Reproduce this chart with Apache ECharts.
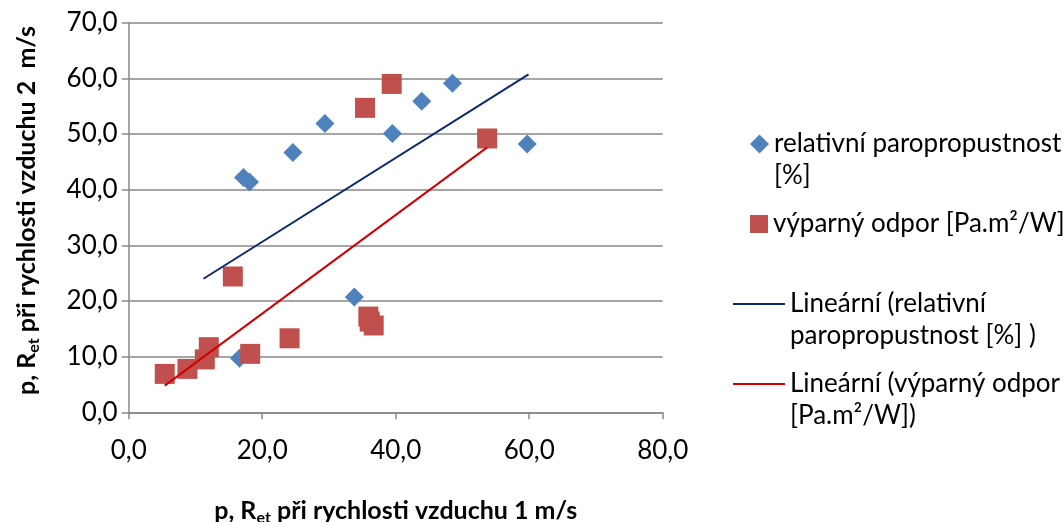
<!DOCTYPE html>
<html>
<head>
<meta charset="utf-8">
<script src="https://cdn.jsdelivr.net/npm/echarts@6/dist/echarts.min.js"></script>
<style>
html,body{margin:0;padding:0;background:#fff;}
#chart{width:1064px;height:522px;}
</style>
</head>
<body>
<div id="chart"></div>
<script>
// ---- data ----
const blueName = 'relativní paropropustnost [%]';
const redName = 'výparný odpor [Pa.m²/W]';
const blueTrendName = 'Lineární (relativní paropropustnost [%] )';
const redTrendName = 'Lineární (výparný odpor [Pa.m²/W])';

const blueX = [17.2, 18.1, 24.6, 29.4, 39.5, 43.9, 48.5, 59.7, 33.8, 16.6];
const blueY = [42.2, 41.4, 46.7, 51.9, 50.1, 55.9, 59.1, 48.2, 20.7, 9.7];

const redX = [39.4, 35.4, 53.7, 15.6, 24.1, 18.2, 12.0, 11.4, 8.8, 5.4, 35.9, 36.1, 36.7];
const redY = [59.0, 54.7, 49.2, 24.4, 13.3, 10.5, 11.7, 9.5, 7.8, 6.9, 17.2, 16.3, 15.6];

// trend line end points [x, y]
const blueTrend = [[11.2, 24.0], [59.9, 60.7]];
const redTrend = [[5.4, 4.8], [53.7, 47.6]];

const xTicks = { min: 0, max: 80, interval: 20 };
const yTicks = { min: 0, max: 70, interval: 10 };

// ---- chart ----
const FONT = 'Lato';
const FS = 26;
const fmt = v => v.toFixed(1).replace('.', ',');
const zip = (xs, ys) => xs.map((x, i) => [x, ys[i]]);
const GRID = '#898989';
const BLUE = '#4F81BD', RED = '#C0504D', NAVY = '#0B2A6E', LRED = '#D00000';

const legendBase = {
  orient: 'vertical',
  itemGap: 0,
  selectedMode: false,
  textStyle: { fontFamily: FONT, fontSize: FS, color: '#000', lineHeight: 32 }
};

const richName = {
  b: { fontFamily: FONT, fontWeight: 'bold', fontSize: 25, color: '#000', lineHeight: 30, verticalAlign: 'middle' },
  s: { fontFamily: FONT, fontWeight: 'bold', fontSize: 16, color: '#000', lineHeight: 14, verticalAlign: 'bottom' }
};

const chart = echarts.init(document.getElementById('chart'), null, { renderer: 'canvas' });
chart.setOption({
  backgroundColor: '#fff',
  animation: false,
  grid: { left: 128.7, right: 401.3, top: 22.7, bottom: 109.7, containLabel: false, outerBoundsMode: 'none' },
  xAxis: {
    type: 'value', min: xTicks.min, max: xTicks.max, interval: xTicks.interval,
    axisLine: { show: true, lineStyle: { color: GRID, width: 1.5 } },
    axisTick: { show: true, length: 7, lineStyle: { color: GRID, width: 1.5 } },
    splitLine: { show: false },
    axisLabel: { formatter: fmt, fontFamily: FONT, fontSize: FS, color: '#000', margin: 25 },
    name: '{b|p, R}{s|et}{b| při rychlosti vzduchu 1 m/s}',
    nameLocation: 'middle', nameGap: 84,
    nameTextStyle: { rich: richName }
  },
  yAxis: {
    type: 'value', min: yTicks.min, max: yTicks.max, interval: yTicks.interval,
    axisLine: { show: true, lineStyle: { color: GRID, width: 1.5 } },
    axisTick: { show: true, length: 7, lineStyle: { color: GRID, width: 1.5 } },
    splitLine: { show: true, lineStyle: { color: GRID, width: 1.5 } },
    axisLabel: { formatter: fmt, fontFamily: FONT, fontSize: FS, color: '#000', margin: 11 },
    name: '{b|p, R}{s|et}{b| při rychlosti vzduchu 2  m/s}',
    nameLocation: 'middle', nameGap: 87, nameRotate: 90,
    nameTextStyle: { rich: richName, padding: [0, 0, 0, 14] }
  },
  legend: [
    Object.assign({}, legendBase, {
      left: 745, top: 139 - 48, itemWidth: 19, itemHeight: 19,
      itemTextGap: 21,
      data: [{ name: blueName, icon: 'diamond', itemStyle: { color: BLUE, opacity: 1 } }],
      formatter: () => ' \nrelativní paropropustnost\n[%]'
    }),
    Object.assign({}, legendBase, {
      left: 745, top: 219 - 16, itemWidth: 18, itemHeight: 18,
      itemTextGap: 22,
      data: [{ name: redName, icon: 'rect', itemStyle: { color: RED, opacity: 1 } }]
    }),
    Object.assign({}, legendBase, {
      left: 728, top: 299 - 48, itemWidth: 52, itemHeight: 2,
      itemTextGap: 5,
      data: [{ name: blueTrendName, icon: 'rect', itemStyle: { color: NAVY } }],
      formatter: () => ' \nLineární (relativní\nparopropustnost [%] )'
    }),
    Object.assign({}, legendBase, {
      left: 728, top: 379 - 48, itemWidth: 52, itemHeight: 2,
      itemTextGap: 5,
      data: [{ name: redTrendName, icon: 'rect', itemStyle: { color: LRED } }],
      formatter: () => ' \nLineární (výparný odpor\n[Pa.m²/W])'
    })
  ],
  series: [
    {
      name: blueName, type: 'scatter', symbol: 'diamond', symbolSize: 19,
      itemStyle: { color: BLUE, opacity: 1 },
      data: zip(blueX, blueY), z: 2
    },
    {
      name: redName, type: 'scatter', symbol: 'rect', symbolSize: 20,
      itemStyle: { color: RED, opacity: 1 },
      data: zip(redX, redY), z: 3
    },
    {
      name: blueTrendName, type: 'line', symbol: 'none', showSymbol: false,
      lineStyle: { color: NAVY, width: 2 }, itemStyle: { color: NAVY },
      data: blueTrend, z: 4
    },
    {
      name: redTrendName, type: 'line', symbol: 'none', showSymbol: false,
      lineStyle: { color: LRED, width: 2 }, itemStyle: { color: LRED },
      data: redTrend, z: 4
    }
  ]
});
</script>
</body>
</html>
